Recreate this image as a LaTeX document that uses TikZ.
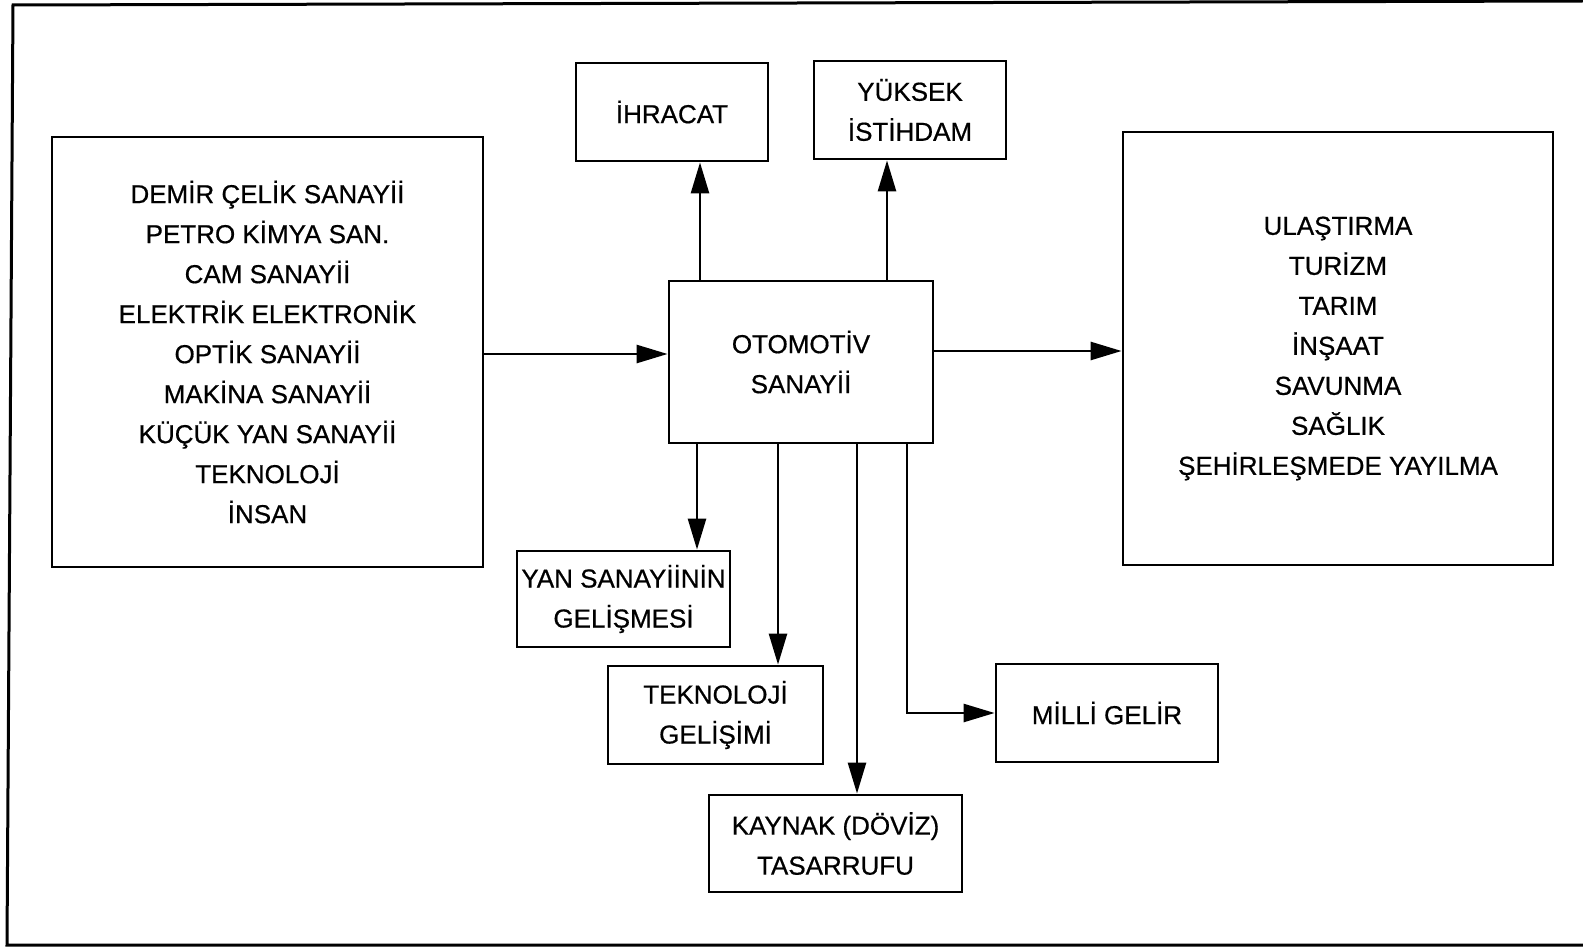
\documentclass[tikz,border=0pt]{standalone}
\usepackage{fontspec}
\setmainfont[FakeBold=0.6]{Liberation Sans}
\usetikzlibrary{arrows.meta}
\begin{document}
\begin{tikzpicture}[x=1pt,y=-1pt,
  box/.style={draw,line width=2.8pt,inner sep=0pt,align=center,font=\fontsize{26}{40}\selectfont},
  arr/.style={line width=2.6pt,-{Triangle[length=31pt,width=18pt]}},
  frame/.style={line width=3pt}]
\useasboundingbox (0,0) rectangle (1583,947);
\draw[frame] (1583,1) -- (13,5) -- (7,945) -- (1583,945);
% boxes
\node[box,minimum width=431pt,minimum height=430pt] (lbox) at (267.5,352) {DEMİR ÇELİK SANAYİİ\\PETRO KİMYA SAN.\\CAM SANAYİİ\\ELEKTRİK ELEKTRONİK\\OPTİK SANAYİİ\\MAKİNA SANAYİİ\\KÜÇÜK YAN SANAYİİ\\TEKNOLOJİ\\İNSAN};
\node[box,minimum width=430pt,minimum height=433pt] (rbox) at (1338,348.5) {ULAŞTIRMA\\TURİZM\\TARIM\\İNŞAAT\\SAVUNMA\\SAĞLIK\\ŞEHİRLEŞMEDE YAYILMA};
\node[box,minimum width=264pt,minimum height=162pt] (cbox) at (801,362) {OTOMOTİV\\SANAYİİ};
\node[box,minimum width=192pt,minimum height=98pt] (ihr) at (672,112) {İHRACAT};
\node[box,minimum width=192pt,minimum height=98pt] (yuk) at (910,110) {YÜKSEK\\İSTİHDAM};
\node[box,minimum width=213pt,minimum height=96pt] (yan) at (623.5,599) {YAN SANAYİİNİN\\GELİŞMESİ};
\node[box,minimum width=215pt,minimum height=98pt] (tek) at (715.5,715) {TEKNOLOJİ\\GELİŞİMİ};
\node[box,minimum width=253pt,minimum height=97pt] (kay) at (835.5,843.5) {KAYNAK (DÖVİZ)\\TASARRUFU};
\node[box,minimum width=222pt,minimum height=98pt] (mil) at (1107,713) {MİLLİ GELİR};
% connectors
\draw[arr] (lbox.east |- 0,354) -- (cbox.west |- 0,354);
\draw[arr] (cbox.east |- 0,351) -- (rbox.west |- 0,351);
\draw[arr] (cbox.north -| 700,0) -- (ihr.south -| 700,0);
\draw[arr] (cbox.north -| 887,0) -- (yuk.south -| 887,0);
\draw[arr] (cbox.south -| 697,0) -- (yan.north -| 697,0);
\draw[arr] (cbox.south -| 778,0) -- (tek.north -| 778,0);
\draw[arr] (cbox.south -| 857,0) -- (kay.north -| 857,0);
\draw[arr] (cbox.south -| 907,0) |- (mil.west);
\end{tikzpicture}
\end{document}
